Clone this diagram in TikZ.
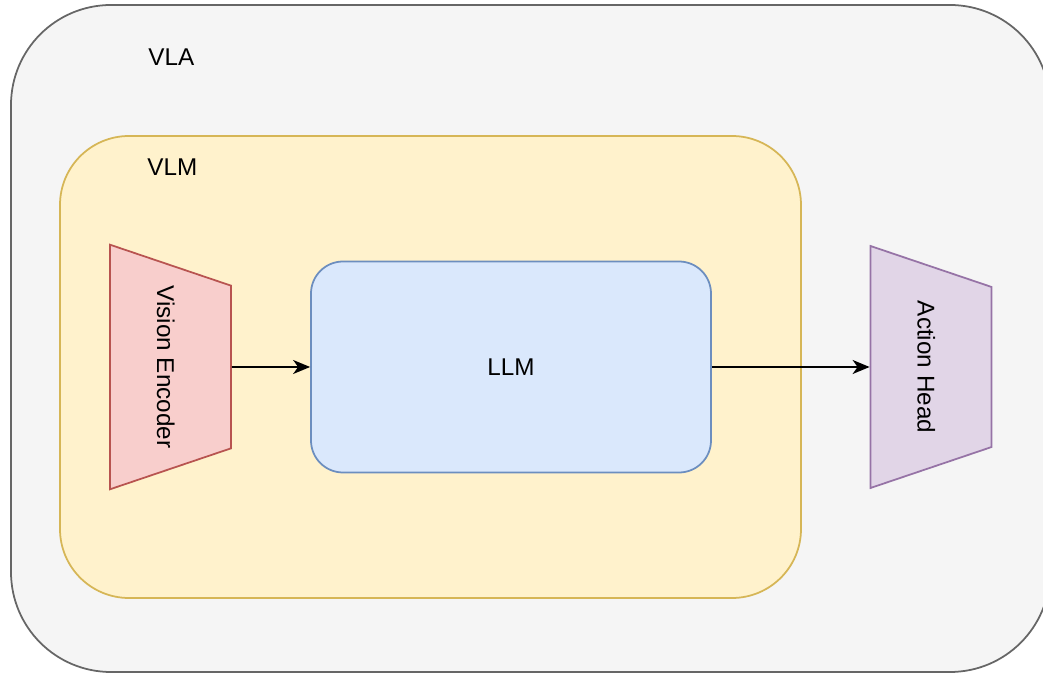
\documentclass[tikz,border=0pt]{standalone}
\usepackage{fontspec}
\setmainfont{Liberation Sans}
\usetikzlibrary{shapes.geometric}
\usetikzlibrary{arrows.meta}

\definecolor{vlafill}{HTML}{F5F5F5}
\definecolor{vlaline}{HTML}{666666}
\definecolor{vlmfill}{HTML}{FFF2CC}
\definecolor{vlmline}{HTML}{D6B656}
\definecolor{llmfill}{HTML}{DAE8FC}
\definecolor{llmline}{HTML}{6C8EBF}
\definecolor{encfill}{HTML}{F8CECC}
\definecolor{encline}{HTML}{B85450}
\definecolor{headfill}{HTML}{E1D5E7}
\definecolor{headline}{HTML}{9673A6}

\begin{document}
\begin{tikzpicture}[
        font=\fontsize{13.8}{16}\selectfont,
        box/.style={rectangle, line width=1pt, inner sep=0pt},
        block/.style={trapezium, trapezium angle=71.3, trapezium stretches body=true, rotate=-90,
                      text height=1.48cm, text depth=0.94cm, minimum width=4.84cm,
                      inner sep=0pt, line width=1pt},
        caption/.style={anchor=west, inner sep=0pt},
        link/.style={-{Stealth[length=3.4mm, width=2.8mm, inset=1mm]}, line width=1pt}
      ]
        \useasboundingbox (0,0) rectangle (20.86,-13.52);

        \node (vla) [box, draw=vlaline, fill=vlafill, rounded corners=2cm,
                     minimum width=20.78cm, minimum height=13.34cm] at (10.61,-6.77) {};
        \node (vlatext) [caption] at (2.96,-1.14) {VLA};

        \node (vlm) [box, draw=vlmline, fill=vlmfill, rounded corners=1.38cm,
                     minimum width=14.82cm, minimum height=9.24cm] at (8.61,-7.34) {};
        \node (vlmtext) [caption] at (2.94,-3.34) {VLM};

        \node (venc) [block, draw=encline, fill=encfill] at (3.41,-7.34) {Vision Encoder};
        \node (llm) [box, draw=llmline, fill=llmfill, rounded corners=0.64cm,
                     minimum width=8cm, minimum height=4.22cm] at (10.22,-7.34) {LLM};
        \node (ahead) [block, draw=headline, fill=headfill] at (18.62,-7.34) {Action Head};

        \draw[link] (venc) -- (llm);
        \draw[link] (llm) -- (ahead);
      \end{tikzpicture}
\end{document}
